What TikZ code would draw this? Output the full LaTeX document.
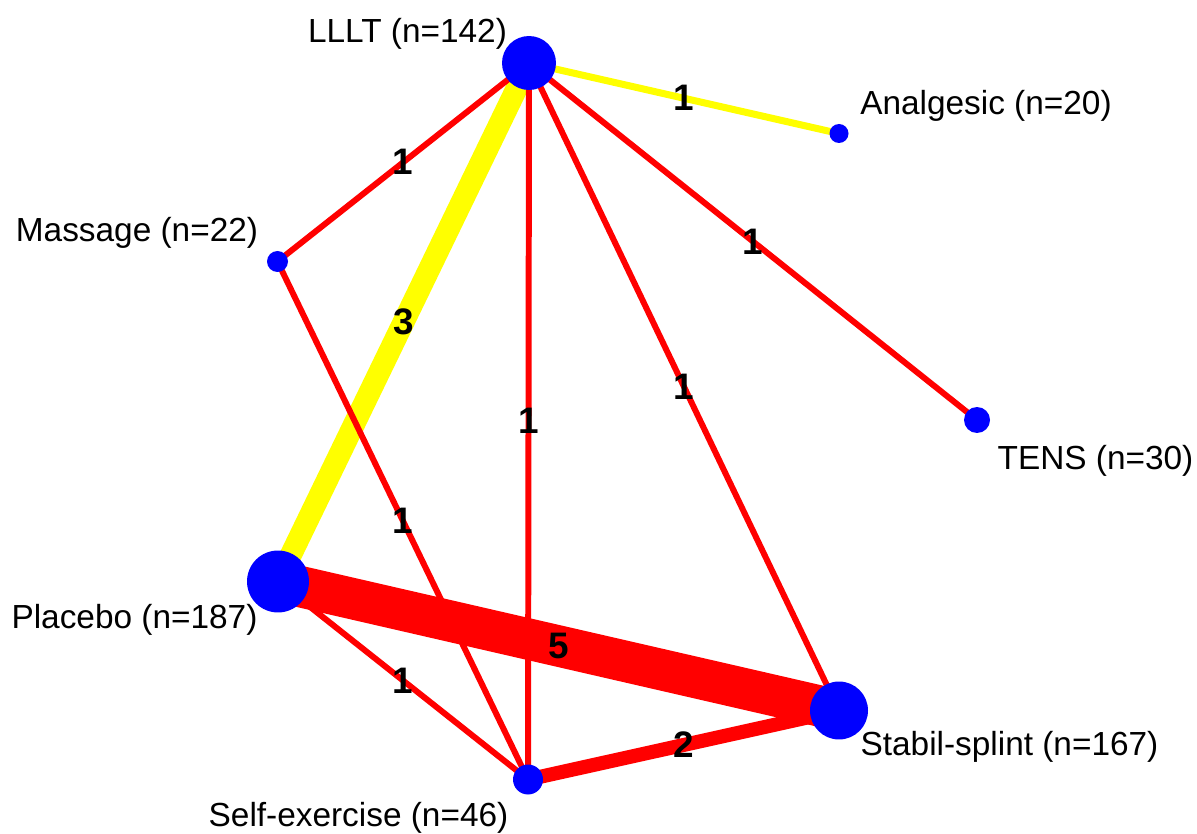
\documentclass[tikz,border=0pt]{standalone}
\usepackage{fontspec}
\setmainfont{Liberation Sans}
\usetikzlibrary{backgrounds}
\definecolor{netblue}{RGB}{0,0,255}
\definecolor{netred}{RGB}{255,0,0}
\definecolor{netyellow}{RGB}{255,255,0}

\begin{document}
\begin{tikzpicture}[
    x=0.02cm, y=-0.02cm,
    trt/.style={circle, fill=netblue, inner sep=0pt},
    tag/.style={anchor=base, text=black, font=\fontsize{19}{22}\selectfont},
    cnt/.style={text=black, inner sep=0pt, font=\fontsize{21}{24}\selectfont\bfseries},
    lnk/.style={line width=3.4pt, netred},
    lnktwo/.style={line width=8pt, netred},
    lnkthree/.style={line width=12.5pt, netyellow},
    lnkfive/.style={line width=23.5pt, netred}
]
    \useasboundingbox (0,0) rectangle (1197,834);

    % Treatments
    \node[trt, minimum size=1.08cm] (lllt) at (529,63) {};
    \node[trt, minimum size=0.38cm] (anal) at (839,133.5) {};
    \node[trt, minimum size=0.42cm] (mass) at (277.5,261.5) {};
    \node[trt, minimum size=0.52cm] (tens) at (977,420) {};
    \node[trt, minimum size=1.24cm] (plac) at (278,581.5) {};
    \node[trt, minimum size=0.60cm] (self) at (528,779.5) {};
    \node[trt, minimum size=1.16cm] (stab) at (839,710.5) {};

    % Treatment labels
    \node[tag] (lllttag) at (407.5,43) {LLLT (n=142)};
    \node[tag] (analtag) at (986,115) {Analgesic (n=20)};
    \node[tag] (masstag) at (137,242) {Massage (n=22)};
    \node[tag] (tenstag) at (1095.5,470) {TENS (n=30)};
    \node[tag] (plactag) at (134.5,628) {Placebo (n=187)};
    \node[tag] (selftag) at (358.5,826) {Self-exercise (n=46)};
    \node[tag] (stabtag) at (1009.5,755) {Stabil-splint (n=167)};

    % Comparisons (number of trials)
    \begin{scope}[on background layer]
        \draw[lnk, line width=4pt, netyellow] (lllt.center) -- (anal.center) node[cnt, midway] {1};
        \draw[lnkthree] (lllt.center) -- (plac.center) node[cnt, midway] {3};
        \draw[lnk] (lllt.center) -- (mass.center) node[cnt, midway] {1};
        \draw[lnk] (lllt.center) -- (tens.center) node[cnt, midway] {1};
        \draw[lnk] (lllt.center) -- (stab.center) node[cnt, midway] {1};
        \draw[lnk] (lllt.center) -- (self.center) node[cnt, midway] {1};
        \draw[lnk] (mass.center) -- (self.center) node[cnt, midway] {1};
        \draw[lnkfive] (plac.center) -- (stab.center) node[cnt, midway] {5};
        \draw[lnk] (plac.center) -- (self.center) node[cnt, midway] {1};
        \draw[lnktwo] (self.center) -- (stab.center) node[cnt, midway] {2};
    \end{scope}
\end{tikzpicture}
\end{document}
